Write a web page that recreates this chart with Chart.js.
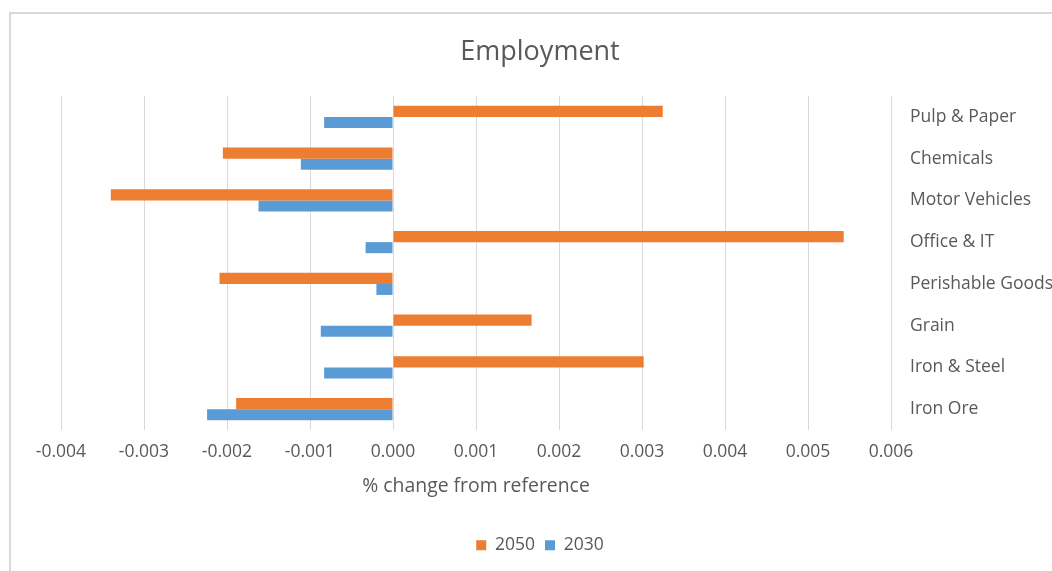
<!DOCTYPE html>
<html>
<head>
<meta charset="utf-8">
<script src="https://cdn.jsdelivr.net/npm/chart.js@4/dist/chart.umd.min.js"></script>
<style>
	html, body { margin: 0; padding: 0; background: #fff; overflow: hidden; }
	#frame {
		position: absolute; left: 9px; top: 12px; width: 1100px; height: 620px;
		border-top: 2px solid #d9d9d9; border-left: 2px solid #d9d9d9;
	}
	#wrap { position: absolute; left: 0; top: 0; width: 1052px; height: 571px; }
</style>
</head>
<body>
<div id="frame"></div>
<div id="wrap"><canvas id="chart" width="1052" height="571"></canvas></div>
<script>
let categories = ["Pulp & Paper", "Chemicals", "Motor Vehicles", "Office & IT", "Perishable Goods", "Grain", "Iron & Steel", "Iron Ore"];
let values2050 = [0.00325, -0.00205, -0.0034, 0.00543, -0.00209, 0.00167, 0.00302, -0.00189];
let values2030 = [-0.00083, -0.00111, -0.00162, -0.00033, -0.0002, -0.00087, -0.00083, -0.00224];
let seriesNames = ["2050", "2030"];
let xMin = -0.004;
let xMax = 0.006;
let xStep = 0.001;

let textColor = "#595959";
let fontFamily = "'Open Sans', sans-serif";

let renderChart = () => {
	let ctx = document.getElementById("chart");

	new Chart(ctx, {
		type: "bar",
		data: {
			labels: categories,
			datasets: [
				{
					label: seriesNames[0],
					data: values2050,
					backgroundColor: "#ED7D31",
					borderWidth: 0,
				},
				{
					label: seriesNames[1],
					data: values2030,
					backgroundColor: "#5B9BD5",
					borderWidth: 0,
				},
			],
		},
		options: {
			indexAxis: "y",
			responsive: false,
			animation: false,
			datasets: {
				bar: { barPercentage: 1, categoryPercentage: 0.53 },
			},
			layout: { padding: { left: 28, right: 0, top: 0, bottom: 7 } },
			plugins: {
				title: {
					display: true,
					text: "Employment",
					color: textColor,
					font: { family: fontFamily, size: 27, weight: "normal" },
					padding: { top: 36, bottom: 27.6 },
				},
				legend: {
					position: "bottom",
					labels: {
						color: textColor,
						font: { family: fontFamily, size: 17.5 },
						boxWidth: 10,
						boxHeight: 10,
						padding: 10,
					},
				},
				tooltip: { enabled: false },
			},
			scales: {
				x: {
					type: "linear",
					min: xMin,
					max: xMax,
					ticks: {
						stepSize: xStep,
						color: textColor,
						padding: 12,
						font: { family: fontFamily, size: 17.5 },
						callback: (v) => (Math.abs(v) < 1e-9 ? 0 : v).toFixed(3),
					},
					grid: { color: "#d9d9d9", lineWidth: 1, drawTicks: false },
					border: { display: false },
					title: {
						display: true,
						text: "% change from reference",
						color: textColor,
						font: { family: fontFamily, size: 19.4 },
						padding: { top: 0, bottom: 28 },
					},
					afterFit: (scale) => {
						scale.height = 96.5;
						scale.paddingLeft = 61;
					},
				},
				y: {
					position: "right",
					ticks: {
						color: textColor,
						padding: 19,
						font: { family: fontFamily, size: 17.5 },
					},
					grid: { display: false, drawTicks: false },
					border: { display: false },
					afterFit: (scale) => {
						scale.width = 161;
					},
				},
			},
		},
	});
};
renderChart();
</script>
</body>
</html>
